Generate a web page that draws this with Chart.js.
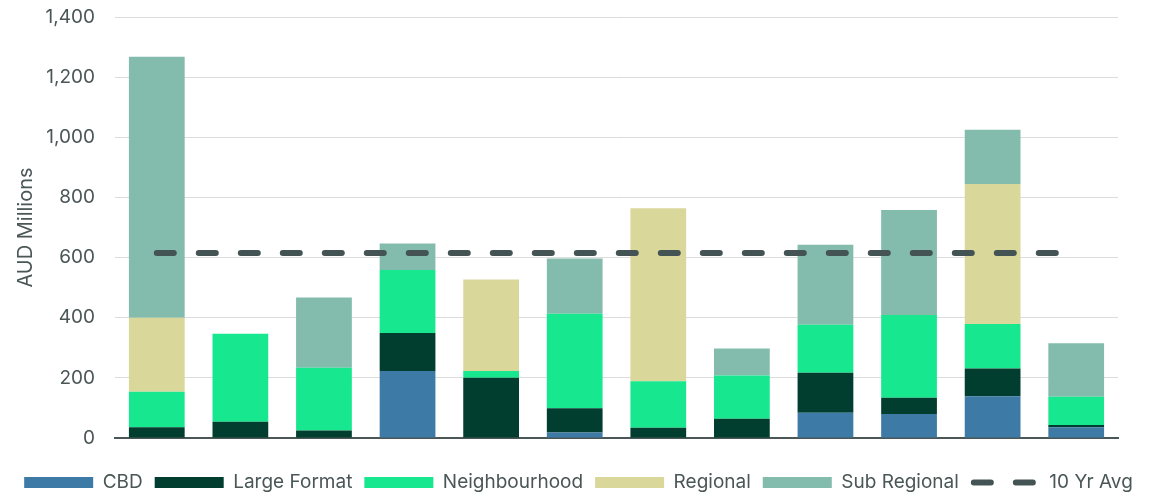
<!DOCTYPE html>
<html>
<head>
<meta charset="utf-8">
<script src="https://cdn.jsdelivr.net/npm/chart.js@4/dist/chart.umd.min.js"></script>
<style>
  html,body{margin:0;padding:0;background:#fff;}
  #wrap{width:1157px;height:497px;position:relative;}
</style>
</head>
<body>
<div id="wrap"><canvas id="c"></canvas></div>
<script>
/* ===== DATA ===== */
const years=['2013','2014','2015','2016','2017','2018','2019','2020','2021','2022','2023','2024'];
const cbd=        [0,  0,  0,  223,0,  18, 0,  0,  84, 80, 139,36];
const largeFormat=[36, 54, 25, 126,200,81, 34, 64, 133,54, 92, 7];
const neighbourhood=[118,293,209,210,23,314,155,144,160,275,148,94];
const regional=   [246,0,  0,  0,  304,0,  575,0,  0,  0,  466,0];
const subRegional=[868,0,  233,88, 0,  184,0,  90, 266,349,180,178];
const tenYrAvg=615;

/* ===== STYLE ===== */
const COL={cbd:'#3e7aa6',lf:'#023e2f',nb:'#17e88f',reg:'#dad79b',sr:'#83bbad',avg:'#445454',
  text:'#4b5656',grid:'#dcdcdc',axis:'#4b5656'};
const FONT='Inter, Roboto, sans-serif';

const bar=(label,data,color)=>({type:'bar',label,data,backgroundColor:color,borderWidth:0,order:2,stack:'s'});

new Chart(document.getElementById('c').getContext('2d'),{
  data:{
    labels:years,
    datasets:[
      bar('CBD',cbd,COL.cbd),
      bar('Large Format',largeFormat,COL.lf),
      bar('Neighbourhood',neighbourhood,COL.nb),
      bar('Regional',regional,COL.reg),
      bar('Sub Regional',subRegional,COL.sr),
      {type:'line',label:'10 Yr Avg',data:years.map(()=>tenYrAvg),stack:'avg',order:0,
        borderColor:COL.avg,backgroundColor:COL.avg,borderWidth:6,borderDash:[17,25],
        borderCapStyle:'round',pointRadius:0,fill:false}
    ]
  },
  options:{
    responsive:true,maintainAspectRatio:false,animation:false,
    layout:{padding:{top:0,right:0,bottom:-5,left:0}},
    datasets:{bar:{categoryPercentage:1,barPercentage:0.667}},
    plugins:{
      tooltip:{enabled:false},
      legend:{
        position:'bottom',
        labels:{
          color:COL.text,font:{family:FONT,size:19},
          usePointStyle:true,pointStyleWidth:69,boxHeight:11,padding:12,
          generateLabels:chart=>chart.data.datasets.map((ds,i)=>{
            const isLine=ds.type==='line';
            return{
              text:ds.label,datasetIndex:i,
              fillStyle:ds.backgroundColor,strokeStyle:ds.borderColor||ds.backgroundColor,
              lineWidth:isLine?6:0,lineDash:isLine?[17,25]:[],lineCap:isLine?'round':'butt',
              lineDashOffset:isLine?-3:0,
              pointStyle:isLine?'line':'rect',fontColor:COL.text
            };
          })
        }
      }
    },
    scales:{
      x:{
        stacked:true,
        ticks:{display:false},
        grid:{display:false,drawTicks:false},
        border:{display:true,color:COL.axis,width:2},
        afterFit:s=>{s.height+=23;}
      },
      y:{
        stacked:true,min:0,max:1400,
        ticks:{stepSize:200,color:COL.text,font:{family:FONT,size:19},padding:20,
          callback:v=>v.toLocaleString('en-US')},
        grid:{color:COL.grid,lineWidth:1,drawTicks:false},
        border:{display:false},
        title:{display:true,text:'AUD Millions',color:COL.text,font:{family:FONT,size:20},padding:{top:14,bottom:0}},
        afterFit:s=>{s.width=115;s.paddingTop=17;}
      },
      // empty right gutter so the plot stops short of the canvas edge
      gutter:{
        position:'right',
        ticks:{display:false},
        grid:{display:false,drawTicks:false},
        border:{display:false},
        afterFit:s=>{s.width=39;}
      }
    }
  }
});
</script>
</body>
</html>
